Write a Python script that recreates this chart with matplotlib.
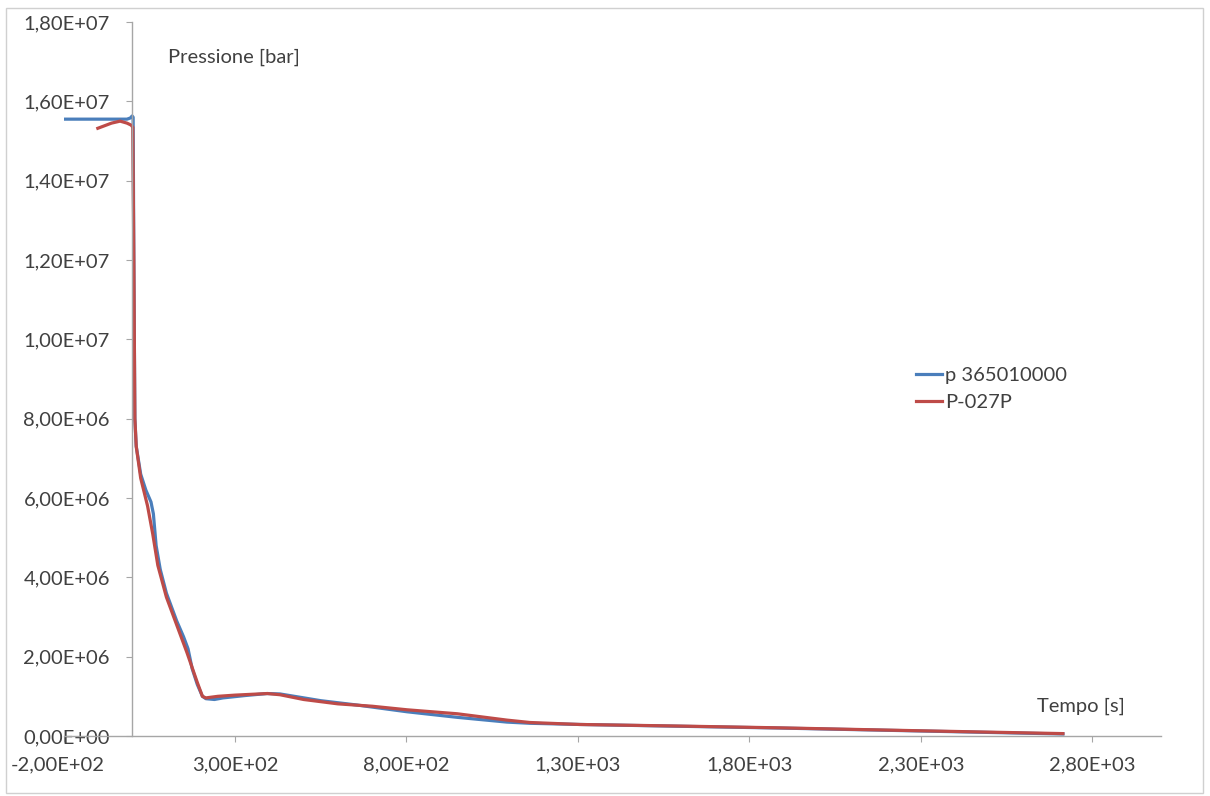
import numpy as np
import matplotlib.pyplot as plt
from matplotlib.patches import Rectangle
from matplotlib.transforms import ScaledTranslation

plt.rcParams['font.family'] = ['Lato', 'DejaVu Sans']

# serie 1: p 365010000
t_blue = [-195, -15, -5, 0, 3, 5, 8, 12, 25, 40, 55, 62, 70, 82, 100, 130, 150, 163,
          175, 190, 205, 215, 240, 265, 330, 394, 431, 480, 550, 656, 802, 948,
          1093, 1160, 1306, 1598, 1889, 2277, 2714]
p_blue = [1.555e7, 1.555e7, 1.558e7, 1.563e7, 1.56e7, 1.2e7, 8.0e6, 7.3e6, 6.6e6, 6.2e6,
          5.9e6, 5.6e6, 4.8e6, 4.2e6, 3.6e6, 2.9e6, 2.5e6, 2.2e6, 1.7e6, 1.3e6, 1.0e6,
          9.4e5, 9.2e5, 9.6e5, 1.02e6, 1.07e6, 1.06e6, 9.9e5, 8.9e5, 7.8e5, 6.1e5,
          4.7e5, 3.5e5, 3.2e5, 2.9e5, 2.45e5, 2.0e5, 1.3e5, 5e4]

# serie 2: P-027P
t_red = [-100, -60, -35, -15, -3, 2, 5, 8, 12, 25, 45, 60, 75, 100, 130, 160, 190,
         205, 215, 250, 300, 394, 431, 500, 600, 700, 802, 948, 1093, 1160, 1306,
         1598, 1889, 2277, 2714]
p_red = [1.532e7, 1.545e7, 1.55e7, 1.545e7, 1.54e7, 1.535e7, 1.2e7, 8.0e6, 7.3e6, 6.5e6,
         5.8e6, 5.1e6, 4.3e6, 3.5e6, 2.8e6, 2.1e6, 1.35e6, 1.0e6, 9.6e5, 1.0e6, 1.03e6,
         1.07e6, 1.04e6, 9.2e5, 8.1e5, 7.5e5, 6.6e5, 5.6e5, 4.0e5, 3.4e5, 2.9e5,
         2.5e5, 2.05e5, 1.35e5, 6e4]

x_ticks = np.arange(-200, 3000, 500)
y_ticks = np.arange(0, 1.8e7 + 1, 2e6)

fig = plt.figure(figsize=(12.1, 7.96), dpi=100)
ax = fig.add_axes([0.0525, 0.0754, 0.907, 0.897])

ax.plot(t_blue, p_blue, color='#4A7EBB', lw=2.3, label='p 365010000')
ax.plot(t_red, p_red, color='#BE4B48', lw=2.3, label='P-027P')

ax.set_xlim(-200, 3000)
ax.set_ylim(0, 1.8e7)
ax.set_xticks(x_ticks)
ax.set_yticks(y_ticks)

fmt = lambda v: f"{v:.2E}".replace('.', ',')
ax.set_xticklabels([fmt(v) for v in x_ticks])
ax.set_yticklabels([fmt(v) for v in y_ticks])

ax.spines['left'].set_position(('data', 0))
ax.spines['top'].set_visible(False)
ax.spines['right'].set_visible(False)
for s in ['left', 'bottom']:
    ax.spines[s].set_color('#A6A6A6')
    ax.spines[s].set_linewidth(1.0)
ax.tick_params(axis='both', colors='#A6A6A6', labelcolor='#404040', labelsize=14.5,
               length=4, direction='out')
ax.tick_params(axis='x', pad=11)
ax.tick_params(axis='y', pad=12)

# prima etichetta x spostata a sinistra come in Excel
lab0 = ax.get_xticklabels()[0]
lab0.set_transform(lab0.get_transform() + ScaledTranslation(-0.06, 0, fig.dpi_scale_trans))

ax.text(0.139, 0.928, 'Pressione [bar]', transform=fig.transFigure, fontsize=14.5,
        color='#404040', va='center')
ax.text(0.857, 0.113, 'Tempo [s]', transform=fig.transFigure, fontsize=14.5,
        color='#404040', va='center')

ax.legend(loc='center left', bbox_to_anchor=(0.742, 0.511), bbox_transform=fig.transFigure,
          frameon=False, fontsize=14.5, handlelength=1.3, handletextpad=0.15,
          labelspacing=0.5, labelcolor='#404040')

fig.patches.append(Rectangle((0.005, 0.004), 0.989, 0.986, transform=fig.transFigure,
                             fill=False, edgecolor='#D0D0D0', lw=1.0))

fig.savefig('out.png', dpi=100)
